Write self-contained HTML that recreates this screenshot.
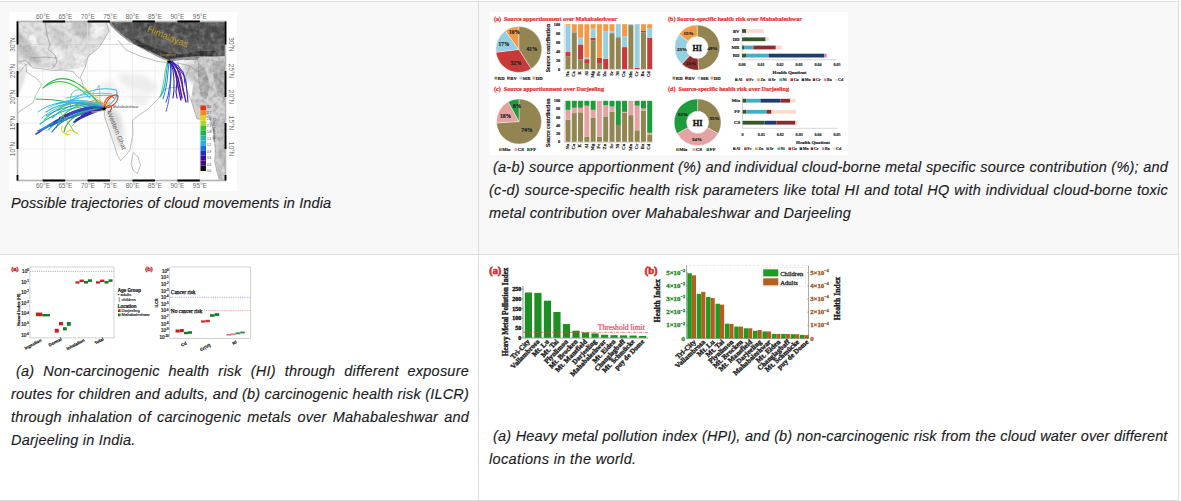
<!DOCTYPE html>
<html><head><meta charset="utf-8">
<style>
html,body{margin:0;padding:0;width:1181px;height:501px;overflow:hidden;background:#fff;position:relative;font-family:"Liberation Sans",sans-serif;}
.abs{position:absolute;}
.row1{left:0;top:1px;width:1179px;height:253px;background:#f8f8f8;}
.hl{position:absolute;left:0;width:1179px;height:1px;background:#dedede;}
.vl{position:absolute;width:1px;background:#dedede;}
.cap{position:absolute;font-style:italic;font-size:14.5px;letter-spacing:0.22px;line-height:23px;color:#1d1d24;white-space:nowrap;-webkit-text-stroke:0.15px #1d1d24;}
.cap div{height:23px;}
.j{text-align:justify;text-align-last:justify;}
.fig{position:absolute;background:#fff;}
svg{font-family:"Liberation Sans",sans-serif;} .serif{font-family:"Liberation Serif",serif;}
</style></head><body>
<div class="abs row1"></div>
<div class="hl" style="top:1px"></div>
<div class="hl" style="top:254px"></div>
<div class="hl" style="top:500px"></div>
<div class="vl" style="left:478px;top:1px;height:500px"></div>
<div class="vl" style="left:1178px;top:1px;height:500px"></div>

<!-- FIG1 -->
<svg class="abs" style="left:9px;top:12px" width="228" height="179" viewBox="9 12 228 179">
<defs>
<filter id="tex" x="0" y="0" width="1" height="1"><feTurbulence type="fractalNoise" baseFrequency="0.22" numOctaves="3" seed="5"/><feColorMatrix type="matrix" values="0 0 0 0 0  0 0 0 0 0  0 0 0 0 0  0 0 0 -2 1.25"/><feComposite in2="SourceGraphic" operator="in"/></filter>
<filter id="texw" x="0" y="0" width="1" height="1"><feTurbulence type="fractalNoise" baseFrequency="0.18" numOctaves="3" seed="9"/><feColorMatrix type="matrix" values="0 0 0 0 1  0 0 0 0 1  0 0 0 0 1  0 0 0 -2.2 1.3"/><feComposite in2="SourceGraphic" operator="in"/></filter>
<filter id="bl0"><feGaussianBlur stdDeviation="0.6"/></filter><filter id="bl1"><feGaussianBlur stdDeviation="1.2"/></filter>
<filter id="bl2"><feGaussianBlur stdDeviation="2.5"/></filter>
<clipPath id="mapclip"><rect x="17.5" y="21.5" width="208" height="159"/></clipPath>
</defs>
<rect x="9" y="12" width="228" height="179" fill="#fff"/>
<g clip-path="url(#mapclip)">
<rect x="17" y="21" width="210" height="161" fill="#fefefe"/>
<!-- west topography -->
<g filter="url(#bl1)">
<path d="M15 19 L106 19 L109 31 L100 46 L89 56 L85 66 L75 69 L60 70 L40 68 L28 66 L15 63 Z" fill="#e2e2e2"/>
<path d="M15 30 L24 36 L34 50 L42 62 L34 64 L22 55 L15 48 Z" fill="#c4c4c4"/>
<path d="M48 24 L62 30 L70 44 L64 50 L54 40 Z" fill="#d0d0d0"/>
<path d="M70 20 L98 20 L94 30 L84 40 L74 34 Z" fill="#c8c8c8"/>
<path d="M27 32 L36 36 L38 46 L31 46 Z" fill="#f6f6f6"/>
<path d="M52 46 L66 52 L62 62 L50 58 Z" fill="#f2f2f2"/>
<path d="M92 22 L106 22 L104 32 L96 40 L90 34 Z" fill="#f4f4f4"/>
<path d="M74 52 L86 56 L84 66 L74 66 Z" fill="#f0f0f0"/>
</g>
<path d="M15 19 L106 19 L109 31 L100 46 L89 56 L85 66 L75 69 L60 70 L40 68 L28 66 L15 63 Z" fill="#000" filter="url(#tex)" opacity="0.12"/>
<!-- Arabia -->
<path d="M15 68 L22 66 L27 70 L24 82 L19 94 L15 100 Z" fill="#e4e4e4" filter="url(#bl1)"/>
<!-- India plateau light shading -->
<g filter="url(#bl2)">
<path d="M104 104 L114 106 L120 116 L124 134 L121 150 L116 146 L110 128 L106 116 Z" fill="#e2e2e2"/>
<path d="M110 112 L118 114 L122 124 L118 132 L112 124 Z" fill="#d6d6d6"/>
<path d="M96 84 L112 80 L120 92 L108 98 Z" fill="#efefef"/>
<path d="M120 72 L146 76 L160 88 L150 94 L128 88 L118 80 Z" fill="#ededed"/>
<path d="M130 92 L150 96 L146 106 L132 104 Z" fill="#f0f0f0"/>
<path d="M182 64 L198 62 L206 70 L202 84 L190 82 L184 74 Z" fill="#c4c4c4"/>
</g>
<!-- grid -->
<g stroke="#e2e2e2" stroke-width="0.6" fill="none">
<path d="M42.7 21V181M65.1 21V181M87.6 21V181M110 21V181M132.5 21V181M154.9 21V181M177.4 21V181M199.8 21V181"/>
<path d="M17 44.5H226M17 71H226M17 97H226M17 123H226M17 149H226"/>
</g>
<!-- Tibet / Himalaya -->
<g filter="url(#bl0)">
<path d="M106 19 L228 19 L228 126 L220 122 L215 104 L212 86 L208 70 L203 61 L192 60 L181 60 L170 62 L160 58 L150 53 L139 47 L128 41 L118 33 L111 26 Z" fill="#9a9a9a"/>
<path d="M109 19 L228 19 L228 60 L212 57 L200 56 L188 57 L178 58 L169 60 L158 55 L147 50 L136 44 L124 36 L115 28 Z" fill="#585858"/>
<path d="M118 19 L228 19 L228 38 L200 40 L180 38 L160 36 L140 30 L126 24 Z" fill="#505050"/>
<path d="M128 36 L150 46 L168 53 L180 54 L200 51 L216 51 L212 56 L196 56 L178 57 L167 59 L152 52 L134 44 Z" fill="#353535"/>
<path d="M193 86 L191 100 L197 118.7 L202 119.5 L208.8 116 L213.3 129.3 L215.6 150.5 L214.6 161 L217 172 L220 182 L228 182 L228 56 L200 57 L194 62 L196 72 Z" fill="#d2d2d2"/>
<path d="M198 62 L206 70 L210 86 L206 100 L201 96 L198 80 Z" fill="#b0b0b0"/>
<path d="M212 60 L226 62 L226 100 L218 96 L214 80 Z" fill="#b0b0b0"/>
<path d="M216 120 L226 118 L226 170 L220 160 L218 140 Z" fill="#c2c2c2"/>

</g>
<path d="M106 19 L228 19 L228 182 L220 182 L214 150 L208 116 L191 100 L193 86 L194 62 L170 62 L150 53 L128 41 L111 26 Z" fill="#fff" filter="url(#texw)" opacity="0.25"/>
<path d="M106 19 L228 19 L228 182 L220 182 L214 150 L208 116 L191 100 L193 86 L194 62 L170 62 L150 53 L128 41 L111 26 Z" fill="#000" filter="url(#tex)" opacity="0.2"/>
<g stroke="#888" stroke-width="0.5" fill="none" opacity="0.35">
<path d="M110 21V40M132.5 21V42M154.9 21V54M177.4 21V58M199.8 21V56M17 44.5H226"/>
</g>
<!-- coastlines / borders -->
<g stroke="#8a8a8a" stroke-width="0.55" fill="none" stroke-linejoin="round">
<path d="M17.5 62 L26 60.4 L32.8 67.8 L45.4 69.4 L53 70.5 L63.4 70 L74 72 L76.4 76 L81 79 L83 85.3 L89.4 92.7 L92 93.8 L97.5 88 L99 85.3 L99.7 91.7 L100 102.8 L104 109 L105 118 L112.6 140 L117.4 155 L120.6 160.7 L127 154 L130 149.5 L133 134 L132.5 120.8 L137.3 116 L147.3 109.7 L158.5 98.6 L164 89.6 L169.3 88 L177.4 87 L185.6 85.3 L186.5 90 L191 100 L197 118.7 L202 119.5 L208.8 116 L213.3 129.3 L215.6 150.5 L214.6 161 L217 172 L220 182"/>
<path d="M17.5 75 L22.5 68.3 L26 64 L26.5 72 L36.4 78.4 L41.8 84.3 L36 94.9 L32.8 102.8 L20.3 110.8 L17.5 113.4"/>
<path d="M133.3 152.7 L138 157 L140.5 165 L137.3 173.5 L133 170 L131 164 Z"/>
<path d="M106 21 L109 31 L99.5 47 L88 56.5 L85 67.7 L80 78"/>
<path d="M45 21 L47 35 L50 45 L48 49 L55 55 L57 62 L52 69"/>
<path d="M30 58 L44 57 L57 58"/>
<path d="M118 40 L126 50 L140 56 L156 61 L168 63 L178 63 L190 66 L198 72 L206 67"/>
<path d="M178 63 L180 72 L177.4 87 M190 66 L186 76 L185.6 85.3"/>
</g>
<!-- trajectories: west cluster -->
<g fill="none" stroke-linecap="round" stroke-width="1.1" opacity="0.95">
<path d="M43 88 C55 76 70 74 88 92 S100 106 104 108" stroke="#1fb43c"/>
<path d="M46 86 C58 78 72 80 90 98" stroke="#3ad04a"/>
<path d="M36 99 C60 99 80 104 104 108" stroke="#20b050"/>
<path d="M58 110 C80 92 100 86 116 90 C120 96 112 104 104 108" stroke="#35b8d8"/>
<path d="M62 103 C80 96 100 94 118 96" stroke="#48b8e0"/>
<path d="M66 98 C84 94 100 92 112 94" stroke="#60c0e8"/>
<path d="M36 134 C60 118 80 108 104 108" stroke="#3a3ad0" stroke-width="1.6"/>
<path d="M38 131 C62 120 84 112 104 109" stroke="#1f6fd8" stroke-width="1.6"/>
<path d="M42 129 C62 116 84 108 104 108" stroke="#1890e0" stroke-width="1.4"/>
<path d="M48 130 C66 112 86 104 104 108" stroke="#20c0a0"/>
<path d="M50 126 C70 116 90 110 104 108" stroke="#2050d0" stroke-width="1.6"/>
<path d="M54 122 C72 112 90 106 104 108" stroke="#1a38c0" stroke-width="1.8"/>
<path d="M60 118 C76 110 92 104 104 108" stroke="#3020b0" stroke-width="2"/>
<path d="M64 116 C78 110 92 106 104 107" stroke="#4a1aa0" stroke-width="2.2"/>
<path d="M70 114 C82 108 94 106 104 107" stroke="#2840c8" stroke-width="2.2"/>
<path d="M56 128 C62 110 80 100 104 106" stroke="#30c040"/>
<path d="M64 132 C66 118 86 108 104 108" stroke="#40a020"/>
<path d="M52 118 C66 104 86 100 104 106" stroke="#28b868"/>
<path d="M46 112 C60 102 84 100 104 106" stroke="#22b0b8"/>
<path d="M56 104 C72 98 90 100 104 106" stroke="#30a8e0"/>
<path d="M40 124 C56 112 76 104 104 106" stroke="#18a8d0"/>
<path d="M44 120 C60 104 80 98 104 104" stroke="#40c850"/>
<path d="M66 134 C70 126 74 132 78 134" stroke="#f0c020"/>
<path d="M62 126 C60 132 66 136 70 134" stroke="#e0e020"/>
<path d="M76 120 C88 112 96 110 104 109" stroke="#1010a0" stroke-width="1.8"/>
<path d="M42 118 C58 104 82 96 104 107" stroke="#22c0e0" stroke-width="0.9"/>
<path d="M48 108 C64 100 86 98 104 106" stroke="#58c8e8" stroke-width="0.9"/>
<path d="M52 132 C60 120 80 110 104 108" stroke="#1a60d0" stroke-width="1.2"/>
<path d="M58 124 C68 116 84 110 104 108" stroke="#30b0a0" stroke-width="0.9"/>
<path d="M46 116 C62 106 84 102 104 107" stroke="#2890e0" stroke-width="1"/>
<path d="M72 126 C80 116 92 110 104 108" stroke="#60c830" stroke-width="0.9"/>
<path d="M70 110 C72 100 68 94 76 90 C84 88 96 98 104 106" stroke="#40c8a0" stroke-width="0.9"/>
<path d="M38 112 C50 102 70 100 90 104" stroke="#20a8e8" stroke-width="0.9"/>
<path d="M82 116 C90 112 98 110 104 108" stroke="#5010a0" stroke-width="2"/>
<path d="M74 122 C84 116 94 112 104 109" stroke="#2020c0" stroke-width="1.8"/>
<path d="M60 112 C68 122 72 128 74 132" stroke="#50c040" stroke-width="0.9"/>
<path d="M88 104 C92 98 96 100 104 108" stroke="#f08020" stroke-width="0.9"/>
<path d="M104 108 C108 98 114 92 118 96 C118 104 110 108 104 108" stroke="#e02a1c"/>
<path d="M104 108 C112 102 114 110 108 112" stroke="#d83018"/>
<path d="M104 108 C104 98 110 94 114 98" stroke="#e84020"/>
<path d="M98 100 C104 104 108 106 110 102" stroke="#f0a020"/>
<path d="M84 88 L98 98" stroke="#e8c050" stroke-width="1"/>
<path d="M104 110 C100 112 96 112 92 112" stroke="#d0e030" stroke-width="1"/>
</g>
<!-- trajectories: east cluster -->
<g fill="none" stroke-linecap="round" stroke-linejoin="round">
<path d="M168 61 L167 68 L166 76 L165 84 L163 92 L160 97" stroke="#18b0c0" stroke-width="1.1"/>
<path d="M167 63 L165 72 L164 80 L162 90 L161 95" stroke="#40c070" stroke-width="0.8"/>
<path d="M169 62 L168 72 L167 82 L165 92 L163 99" stroke="#1a88e0" stroke-width="1"/>
<path d="M170 62 L171 72 L170 84 L168 96 L166 102" stroke="#2a50d8" stroke-width="1"/>
<path d="M171 64 L171 78 L170 92 L168 104 L166 112" stroke="#3040e0" stroke-width="0.9" stroke-dasharray="0.9 0.9"/>
<path d="M170 61 L174 68 L176 76 L178 86 L180 96 L181 100" stroke="#4a20b0" stroke-width="1.3"/>
<path d="M172 61 L177 68 L180 76 L182 84 L184 94 L186 102" stroke="#5a1aa0" stroke-width="1.3"/>
<path d="M172 62 L178 66 L183 72 L186 82 L187 92 L188 102" stroke="#3a2ab8" stroke-width="1.1"/>
<path d="M170 62 L173 70 L174 80 L174 90 L173 98" stroke="#2830c8" stroke-width="1.1"/>
<path d="M171 62 L175 70 L178 78 L180 88 L182 98" stroke="#4818a8" stroke-width="1.4"/>
<path d="M172 62 L176 66 L180 70 L184 76 L185 84" stroke="#3030c0" stroke-width="1"/>
<path d="M171 63 L176 72 L177 82 L176 92 L177 98" stroke="#5020a0" stroke-width="1.2"/>
<path d="M172 63 L180 72 L182 80 L183 90 L185 96" stroke="#6018a0" stroke-width="1"/>
</g>
<!-- stars & labels -->
<text x="104" y="110.8" font-size="7" fill="#000" text-anchor="middle">&#9733;</text>
<text x="169" y="63.5" font-size="7" fill="#000" text-anchor="middle">&#9733;</text>
<text x="113" y="108.2" font-size="3.6" fill="#444">Mahabaleshwar</text>
<text x="146.5" y="31.5" font-size="9.3" fill="#b89a28" transform="rotate(22 146.5 31.5)">Himalayas</text>
<text x="160" y="56" font-size="3.5" fill="#c0a030">Darjeeling</text>
<text x="107" y="112.5" font-size="6.6" fill="#555" transform="rotate(68 107 112.5)">Western Ghat</text>
</g>
<!-- colorbar -->
<g>
<rect x="200.5" y="105.5" width="5.5" height="5" fill="#e8301c"/>
<rect x="200.5" y="110.5" width="5.5" height="5" fill="#f08a18"/>
<rect x="200.5" y="115.5" width="5.5" height="5" fill="#e8d020"/>
<rect x="200.5" y="120.5" width="5.5" height="5" fill="#a8d828"/>
<rect x="200.5" y="125.5" width="5.5" height="5" fill="#40c030"/>
<rect x="200.5" y="130.5" width="5.5" height="5" fill="#20b048"/>
<rect x="200.5" y="135.5" width="5.5" height="5" fill="#20b8a0"/>
<rect x="200.5" y="140.5" width="5.5" height="5" fill="#28b0e0"/>
<rect x="200.5" y="145.5" width="5.5" height="5" fill="#1a70e0"/>
<rect x="200.5" y="150.5" width="5.5" height="5" fill="#1a30c8"/>
<rect x="200.5" y="155.5" width="5.5" height="5" fill="#3010a0"/>
<rect x="200.5" y="160.5" width="5.5" height="5" fill="#4a0a88"/>
<rect x="200.5" y="165.5" width="5.5" height="5.5" fill="#111"/>
<g font-size="3.1" fill="#333">
<text x="207" y="107.5">3.0</text><text x="207" y="113.5">2.7</text><text x="207" y="120">2.4</text><text x="207" y="126.5">2.1</text><text x="207" y="133">1.8</text><text x="207" y="139.5">1.5</text><text x="207" y="146">1.2</text><text x="207" y="152.5">0.9</text><text x="207" y="159">0.6</text><text x="207" y="165.5">0.3</text><text x="207" y="171.5">0.0</text>
</g>
<text font-size="3" fill="#333" transform="translate(213 118) rotate(90)">Cloud liquid water</text>
</g>
<!-- frame -->
<rect x="17.5" y="21.5" width="208" height="159" fill="none" stroke="#b4b4b4" stroke-width="1.6"/>
<g stroke="#000" stroke-width="1.8">
<path d="M42.7 21.5H65.1M87.6 21.5H110M132.5 21.5H154.9M177.4 21.5H199.8"/>
<path d="M42.7 180.5H65.1M87.6 180.5H110M132.5 180.5H154.9M177.4 180.5H199.8"/>
<path d="M17.5 21.5V44.5M17.5 71V97M17.5 123V149M17.5 175V180.5"/>
<path d="M225.5 21.5V44.5M225.5 71V97M225.5 123V149M225.5 175V180.5"/>
</g>
<!-- labels -->
<g font-size="6.4" fill="#6a6a6a" text-anchor="middle">
<text x="43" y="19">60°E</text><text x="65.4" y="19">65°E</text><text x="87.8" y="19">70°E</text><text x="110.2" y="19">75°E</text><text x="132.6" y="19">80°E</text><text x="155" y="19">85°E</text><text x="177.4" y="19">90°E</text><text x="199.8" y="19">95°E</text>
<text x="43" y="188.3">60°E</text><text x="65.4" y="188.3">65°E</text><text x="87.8" y="188.3">70°E</text><text x="110.2" y="188.3">75°E</text><text x="132.6" y="188.3">80°E</text><text x="155" y="188.3">85°E</text><text x="177.4" y="188.3">90°E</text><text x="199.8" y="188.3">95°E</text>
<text transform="translate(14.6 44.5) rotate(-90)">30°N</text><text transform="translate(14.6 71) rotate(-90)">25°N</text><text transform="translate(14.6 97) rotate(-90)">20°N</text><text transform="translate(14.6 123) rotate(-90)">15°N</text><text transform="translate(14.6 149) rotate(-90)">10°N</text>
<text transform="translate(228.6 44.5) rotate(90)">30°N</text><text transform="translate(228.6 71) rotate(90)">25°N</text><text transform="translate(228.6 97) rotate(90)">20°N</text><text transform="translate(228.6 123) rotate(90)">15°N</text><text transform="translate(228.6 149) rotate(90)">10°N</text>
</g>
</svg>

<!-- /FIG1 -->
<!-- FIG2 -->
<svg class="abs" style="left:489px;top:12px" width="359" height="143" viewBox="489 12 359 143"><rect x="489" y="12" width="359" height="143" fill="#fff"/><text class="serif" x="494" y="20.6" font-size="6.0" fill="#e2332d" stroke="#e2332d" stroke-width="0.24" font-weight="bold" text-anchor="start" >(a)&#160; Source apportionment over Mahabaleshwar</text><text class="serif" x="668" y="20.6" font-size="6.1" fill="#e2332d" stroke="#e2332d" stroke-width="0.24" font-weight="bold" text-anchor="start" >(b) Source-specific health risk over Mahabaleshwar</text><text class="serif" x="494" y="90.6" font-size="6.1" fill="#e2332d" stroke="#e2332d" stroke-width="0.24" font-weight="bold" text-anchor="start" >(c)&#160; Source apportionment over Darjeeling</text><text class="serif" x="668" y="90.6" font-size="6.1" fill="#e2332d" stroke="#e2332d" stroke-width="0.24" font-weight="bold" text-anchor="start" >(d)&#160; Source-specific health risk over Darjeeling</text><path d="M518.8,49.4 L518.80,26.40 A23,23 0 0 1 531.12,68.82 Z" fill="#938552" stroke="#fff" stroke-width="0.4"/><path d="M518.8,49.4 L531.12,68.82 A23,23 0 0 1 495.98,52.28 Z" fill="#c9393a" stroke="#fff" stroke-width="0.4"/><path d="M518.8,49.4 L495.98,52.28 A23,23 0 0 1 505.28,30.79 Z" fill="#96cfe0" stroke="#fff" stroke-width="0.4"/><path d="M518.8,49.4 L505.28,30.79 A23,23 0 0 1 518.80,26.40 Z" fill="#f39a48" stroke="#fff" stroke-width="0.4"/><text class="serif" x="532" y="50.5" font-size="5.4" fill="#222" stroke="#222" stroke-width="0.22" font-weight="bold" text-anchor="middle" >41%</text><text class="serif" x="516" y="65" font-size="5.4" fill="#222" stroke="#222" stroke-width="0.22" font-weight="bold" text-anchor="middle" >32%</text><text class="serif" x="504" y="46" font-size="5.4" fill="#222" stroke="#222" stroke-width="0.22" font-weight="bold" text-anchor="middle" >17%</text><text class="serif" x="514.5" y="34" font-size="5.4" fill="#222" stroke="#222" stroke-width="0.22" font-weight="bold" text-anchor="middle" >10%</text><path d="M519,121.5 L519.00,99.00 A22.5,22.5 0 1 1 496.54,122.91 Z" fill="#938552" stroke="#fff" stroke-width="0.4"/><path d="M519,121.5 L496.54,122.91 A22.5,22.5 0 0 1 508.16,101.78 Z" fill="#e4a3a3" stroke="#fff" stroke-width="0.4"/><path d="M519,121.5 L508.16,101.78 A22.5,22.5 0 0 1 519.00,99.00 Z" fill="#1e9b3b" stroke="#fff" stroke-width="0.4"/><text class="serif" x="527" y="132" font-size="5.6" fill="#222" stroke="#222" stroke-width="0.22" font-weight="bold" text-anchor="middle" >74%</text><text class="serif" x="505.5" y="118" font-size="5.6" fill="#222" stroke="#222" stroke-width="0.22" font-weight="bold" text-anchor="middle" >18%</text><text class="serif" x="517" y="107.5" font-size="5.4" fill="#222" stroke="#222" stroke-width="0.22" font-weight="bold" text-anchor="middle" >8%</text><path d="M697.20,25.10 A22.5,22.5 0 0 1 698.61,70.06 L697.89,58.58 A11,11 0 0 0 697.20,36.60 Z" fill="#938552" stroke="#fff" stroke-width="0.4"/><path d="M698.61,70.06 A22.5,22.5 0 0 1 681.80,64.00 L689.67,55.62 A11,11 0 0 0 697.89,58.58 Z" fill="#8c2c2c" stroke="#fff" stroke-width="0.4"/><path d="M681.80,64.00 A22.5,22.5 0 0 1 679.00,34.37 L688.30,41.13 A11,11 0 0 0 689.67,55.62 Z" fill="#96cfe0" stroke="#fff" stroke-width="0.4"/><path d="M679.00,34.37 A22.5,22.5 0 0 1 697.20,25.10 L697.20,36.60 A11,11 0 0 0 688.30,41.13 Z" fill="#f39a48" stroke="#fff" stroke-width="0.4"/><text class="serif" x="697.2" y="50.6" font-size="8" fill="#111" stroke="#111" stroke-width="0.32" font-weight="bold" text-anchor="middle" >HI</text><text class="serif" x="712.5" y="50" font-size="5" fill="#222" stroke="#222" stroke-width="0.20" font-weight="bold" text-anchor="middle" >49%</text><text class="serif" x="691" y="65" font-size="5" fill="#222" stroke="#222" stroke-width="0.20" font-weight="bold" text-anchor="middle" >13%</text><text class="serif" x="682" y="50.5" font-size="5" fill="#222" stroke="#222" stroke-width="0.20" font-weight="bold" text-anchor="middle" >23%</text><text class="serif" x="688.5" y="35" font-size="5" fill="#222" stroke="#222" stroke-width="0.20" font-weight="bold" text-anchor="middle" >15%</text><path d="M697.60,98.90 A23.4,23.4 0 0 1 718.11,133.57 L707.24,127.60 A11,11 0 0 0 697.60,111.30 Z" fill="#938552" stroke="#fff" stroke-width="0.4"/><path d="M718.11,133.57 A23.4,23.4 0 0 1 677.09,133.57 L687.96,127.60 A11,11 0 0 0 707.24,127.60 Z" fill="#e4a3a3" stroke="#fff" stroke-width="0.4"/><path d="M677.09,133.57 A23.4,23.4 0 0 1 697.60,98.90 L697.60,111.30 A11,11 0 0 0 687.96,127.60 Z" fill="#1e9b3b" stroke="#fff" stroke-width="0.4"/><text class="serif" x="697.6" y="125.5" font-size="8.5" fill="#111" stroke="#111" stroke-width="0.34" font-weight="bold" text-anchor="middle" >HI</text><text class="serif" x="714.5" y="119.6" font-size="5" fill="#222" stroke="#222" stroke-width="0.20" font-weight="bold" text-anchor="middle" >33%</text><text class="serif" x="697" y="140.6" font-size="5" fill="#222" stroke="#222" stroke-width="0.20" font-weight="bold" text-anchor="middle" >34%</text><text class="serif" x="683" y="115.5" font-size="5" fill="#222" stroke="#222" stroke-width="0.20" font-weight="bold" text-anchor="middle" >33%</text><rect x="494.5" y="76.7" width="2.8" height="2.8" fill="#938552"/><text class="serif" x="497.8" y="79.5" font-size="4.7" fill="#222" stroke="#222" stroke-width="0.19" font-weight="bold" text-anchor="start" >RD</text><rect x="507.0" y="76.7" width="2.8" height="2.8" fill="#c9393a"/><text class="serif" x="510.3" y="79.5" font-size="4.7" fill="#222" stroke="#222" stroke-width="0.19" font-weight="bold" text-anchor="start" >BV</text><rect x="519.5" y="76.7" width="2.8" height="2.8" fill="#96cfe0"/><text class="serif" x="522.8" y="79.5" font-size="4.7" fill="#222" stroke="#222" stroke-width="0.19" font-weight="bold" text-anchor="start" >MR</text><rect x="532.5" y="76.7" width="2.8" height="2.8" fill="#f39a48"/><text class="serif" x="535.8" y="79.5" font-size="4.7" fill="#222" stroke="#222" stroke-width="0.19" font-weight="bold" text-anchor="start" >DD</text><rect x="672.5" y="76.7" width="2.8" height="2.8" fill="#938552"/><text class="serif" x="675.8" y="79.5" font-size="4.7" fill="#222" stroke="#222" stroke-width="0.19" font-weight="bold" text-anchor="start" >RD</text><rect x="685.0" y="76.7" width="2.8" height="2.8" fill="#8c2c2c"/><text class="serif" x="688.3" y="79.5" font-size="4.7" fill="#222" stroke="#222" stroke-width="0.19" font-weight="bold" text-anchor="start" >BV</text><rect x="697.5" y="76.7" width="2.8" height="2.8" fill="#96cfe0"/><text class="serif" x="700.8" y="79.5" font-size="4.7" fill="#222" stroke="#222" stroke-width="0.19" font-weight="bold" text-anchor="start" >MR</text><rect x="710.5" y="76.7" width="2.8" height="2.8" fill="#f39a48"/><text class="serif" x="713.8" y="79.5" font-size="4.7" fill="#222" stroke="#222" stroke-width="0.19" font-weight="bold" text-anchor="start" >DD</text><rect x="499" y="148.2" width="2.8" height="2.8" fill="#938552"/><text class="serif" x="502.3" y="151" font-size="4.7" fill="#222" stroke="#222" stroke-width="0.19" font-weight="bold" text-anchor="start" >Mix</text><rect x="514.5" y="148.2" width="2.8" height="2.8" fill="#e4a3a3"/><text class="serif" x="517.8" y="151" font-size="4.7" fill="#222" stroke="#222" stroke-width="0.19" font-weight="bold" text-anchor="start" >CS</text><rect x="527.0" y="148.2" width="2.8" height="2.8" fill="#1e9b3b"/><text class="serif" x="530.3" y="151" font-size="4.7" fill="#222" stroke="#222" stroke-width="0.19" font-weight="bold" text-anchor="start" >FF</text><rect x="676" y="148.2" width="2.8" height="2.8" fill="#938552"/><text class="serif" x="679.3" y="151" font-size="4.7" fill="#222" stroke="#222" stroke-width="0.19" font-weight="bold" text-anchor="start" >Mix</text><rect x="692.5" y="148.2" width="2.8" height="2.8" fill="#e4a3a3"/><text class="serif" x="695.8" y="151" font-size="4.7" fill="#222" stroke="#222" stroke-width="0.19" font-weight="bold" text-anchor="start" >CS</text><rect x="706.5" y="148.2" width="2.8" height="2.8" fill="#1e9b3b"/><text class="serif" x="709.8" y="151" font-size="4.7" fill="#222" stroke="#222" stroke-width="0.19" font-weight="bold" text-anchor="start" >FF</text><rect x="565.50" y="56.53" width="5.0" height="12.57" fill="#938552"/><rect x="565.50" y="52.04" width="5.0" height="4.49" fill="#c9393a"/><rect x="565.50" y="25.55" width="5.0" height="26.49" fill="#96cfe0"/><rect x="565.50" y="24.20" width="5.0" height="1.35" fill="#f39a48"/><rect x="571.79" y="32.28" width="5.0" height="36.82" fill="#938552"/><rect x="571.79" y="24.20" width="5.0" height="8.08" fill="#f39a48"/><rect x="578.07" y="59.22" width="5.0" height="9.88" fill="#938552"/><rect x="578.07" y="44.40" width="5.0" height="14.82" fill="#c9393a"/><rect x="578.07" y="37.67" width="5.0" height="6.73" fill="#96cfe0"/><rect x="578.07" y="24.20" width="5.0" height="13.47" fill="#f39a48"/><rect x="584.36" y="63.71" width="5.0" height="5.39" fill="#938552"/><rect x="584.36" y="59.22" width="5.0" height="4.49" fill="#c9393a"/><rect x="584.36" y="57.43" width="5.0" height="1.80" fill="#96cfe0"/><rect x="584.36" y="24.20" width="5.0" height="33.23" fill="#f39a48"/><rect x="590.64" y="40.36" width="5.0" height="28.74" fill="#938552"/><rect x="590.64" y="37.67" width="5.0" height="2.69" fill="#c9393a"/><rect x="590.64" y="28.69" width="5.0" height="8.98" fill="#96cfe0"/><rect x="590.64" y="24.20" width="5.0" height="4.49" fill="#f39a48"/><rect x="596.93" y="63.71" width="5.0" height="5.39" fill="#938552"/><rect x="596.93" y="57.88" width="5.0" height="5.84" fill="#c9393a"/><rect x="596.93" y="24.20" width="5.0" height="33.67" fill="#f39a48"/><rect x="603.21" y="58.77" width="5.0" height="10.33" fill="#c9393a"/><rect x="603.21" y="31.38" width="5.0" height="27.39" fill="#96cfe0"/><rect x="603.21" y="24.20" width="5.0" height="7.18" fill="#f39a48"/><rect x="609.50" y="33.18" width="5.0" height="35.92" fill="#938552"/><rect x="609.50" y="31.38" width="5.0" height="1.80" fill="#96cfe0"/><rect x="609.50" y="24.20" width="5.0" height="7.18" fill="#f39a48"/><rect x="615.79" y="37.22" width="5.0" height="31.88" fill="#938552"/><rect x="615.79" y="24.20" width="5.0" height="13.02" fill="#96cfe0"/><rect x="622.07" y="47.10" width="5.0" height="22.00" fill="#c9393a"/><rect x="622.07" y="36.32" width="5.0" height="10.78" fill="#96cfe0"/><rect x="622.07" y="24.20" width="5.0" height="12.12" fill="#f39a48"/><rect x="628.36" y="25.10" width="5.0" height="44.00" fill="#938552"/><rect x="628.36" y="24.20" width="5.0" height="0.90" fill="#96cfe0"/><rect x="634.64" y="67.75" width="5.0" height="1.35" fill="#c9393a"/><rect x="634.64" y="24.20" width="5.0" height="43.55" fill="#96cfe0"/><rect x="640.93" y="32.28" width="5.0" height="36.82" fill="#938552"/><rect x="640.93" y="30.49" width="5.0" height="1.80" fill="#c9393a"/><rect x="640.93" y="24.20" width="5.0" height="6.29" fill="#f39a48"/><rect x="647.21" y="37.67" width="5.0" height="31.43" fill="#c9393a"/><rect x="647.21" y="28.24" width="5.0" height="9.43" fill="#96cfe0"/><rect x="647.21" y="24.20" width="5.0" height="4.04" fill="#f39a48"/><path d="M564.2,24.2 V69.6 H653.2" stroke="#999" stroke-width="0.4" fill="none"/><text class="serif" x="560.2" y="70.5" font-size="4.3" fill="#222" stroke="#222" stroke-width="0.17" font-weight="bold" text-anchor="end" >0</text><text class="serif" x="560.2" y="61.519999999999996" font-size="4.3" fill="#222" stroke="#222" stroke-width="0.17" font-weight="bold" text-anchor="end" >20</text><text class="serif" x="560.2" y="52.54" font-size="4.3" fill="#222" stroke="#222" stroke-width="0.17" font-weight="bold" text-anchor="end" >40</text><text class="serif" x="560.2" y="43.559999999999995" font-size="4.3" fill="#222" stroke="#222" stroke-width="0.17" font-weight="bold" text-anchor="end" >60</text><text class="serif" x="560.2" y="34.58" font-size="4.3" fill="#222" stroke="#222" stroke-width="0.17" font-weight="bold" text-anchor="end" >80</text><text class="serif" x="560.2" y="25.6" font-size="4.3" fill="#222" stroke="#222" stroke-width="0.17" font-weight="bold" text-anchor="end" >100</text><text class="serif" font-size="5.7" font-weight="bold" fill="#222" stroke="#222" stroke-width="0.2" text-anchor="middle" transform="translate(550.2 48.15) rotate(-90)">Source contribution</text><text class="serif" font-size="4.6" font-weight="bold" fill="#222" stroke="#222" stroke-width="0.18" text-anchor="end" transform="translate(568.70 71.1) rotate(-90)">Na</text><text class="serif" font-size="4.6" font-weight="bold" fill="#222" stroke="#222" stroke-width="0.18" text-anchor="end" transform="translate(574.99 71.1) rotate(-90)">Ca</text><text class="serif" font-size="4.6" font-weight="bold" fill="#222" stroke="#222" stroke-width="0.18" text-anchor="end" transform="translate(581.27 71.1) rotate(-90)">K</text><text class="serif" font-size="4.6" font-weight="bold" fill="#222" stroke="#222" stroke-width="0.18" text-anchor="end" transform="translate(587.56 71.1) rotate(-90)">Al</text><text class="serif" font-size="4.6" font-weight="bold" fill="#222" stroke="#222" stroke-width="0.18" text-anchor="end" transform="translate(593.84 71.1) rotate(-90)">Mg</text><text class="serif" font-size="4.6" font-weight="bold" fill="#222" stroke="#222" stroke-width="0.18" text-anchor="end" transform="translate(600.13 71.1) rotate(-90)">Fe</text><text class="serif" font-size="4.6" font-weight="bold" fill="#222" stroke="#222" stroke-width="0.18" text-anchor="end" transform="translate(606.41 71.1) rotate(-90)">Zn</text><text class="serif" font-size="4.6" font-weight="bold" fill="#222" stroke="#222" stroke-width="0.18" text-anchor="end" transform="translate(612.70 71.1) rotate(-90)">Sr</text><text class="serif" font-size="4.6" font-weight="bold" fill="#222" stroke="#222" stroke-width="0.18" text-anchor="end" transform="translate(618.99 71.1) rotate(-90)">Ni</text><text class="serif" font-size="4.6" font-weight="bold" fill="#222" stroke="#222" stroke-width="0.18" text-anchor="end" transform="translate(625.27 71.1) rotate(-90)">Cu</text><text class="serif" font-size="4.6" font-weight="bold" fill="#222" stroke="#222" stroke-width="0.18" text-anchor="end" transform="translate(631.56 71.1) rotate(-90)">Mn</text><text class="serif" font-size="4.6" font-weight="bold" fill="#222" stroke="#222" stroke-width="0.18" text-anchor="end" transform="translate(637.84 71.1) rotate(-90)">Cr</text><text class="serif" font-size="4.6" font-weight="bold" fill="#222" stroke="#222" stroke-width="0.18" text-anchor="end" transform="translate(644.13 71.1) rotate(-90)">Ba</text><text class="serif" font-size="4.6" font-weight="bold" fill="#222" stroke="#222" stroke-width="0.18" text-anchor="end" transform="translate(650.41 71.1) rotate(-90)">Cd</text><rect x="565.50" y="119.66" width="5.0" height="22.14" fill="#938552"/><rect x="565.50" y="109.82" width="5.0" height="9.84" fill="#e4a3a3"/><rect x="565.50" y="100.80" width="5.0" height="9.02" fill="#1e9b3b"/><rect x="571.79" y="113.10" width="5.0" height="28.70" fill="#938552"/><rect x="571.79" y="107.77" width="5.0" height="5.33" fill="#e4a3a3"/><rect x="571.79" y="100.80" width="5.0" height="6.97" fill="#1e9b3b"/><rect x="578.07" y="112.28" width="5.0" height="29.52" fill="#938552"/><rect x="578.07" y="107.77" width="5.0" height="4.51" fill="#e4a3a3"/><rect x="578.07" y="100.80" width="5.0" height="6.97" fill="#1e9b3b"/><rect x="584.36" y="136.88" width="5.0" height="4.92" fill="#938552"/><rect x="584.36" y="105.72" width="5.0" height="31.16" fill="#e4a3a3"/><rect x="584.36" y="100.80" width="5.0" height="4.92" fill="#1e9b3b"/><rect x="590.64" y="117.61" width="5.0" height="24.19" fill="#938552"/><rect x="590.64" y="109.82" width="5.0" height="7.79" fill="#e4a3a3"/><rect x="590.64" y="100.80" width="5.0" height="9.02" fill="#1e9b3b"/><rect x="596.93" y="136.88" width="5.0" height="4.92" fill="#938552"/><rect x="596.93" y="100.80" width="5.0" height="36.08" fill="#e4a3a3"/><rect x="603.21" y="116.38" width="5.0" height="25.42" fill="#938552"/><rect x="603.21" y="105.31" width="5.0" height="11.07" fill="#e4a3a3"/><rect x="603.21" y="100.80" width="5.0" height="4.51" fill="#1e9b3b"/><rect x="609.50" y="111.87" width="5.0" height="29.93" fill="#938552"/><rect x="609.50" y="106.54" width="5.0" height="5.33" fill="#e4a3a3"/><rect x="609.50" y="100.80" width="5.0" height="5.74" fill="#1e9b3b"/><rect x="615.79" y="124.99" width="5.0" height="16.81" fill="#938552"/><rect x="615.79" y="100.80" width="5.0" height="24.19" fill="#1e9b3b"/><rect x="622.07" y="112.69" width="5.0" height="29.11" fill="#938552"/><rect x="622.07" y="111.87" width="5.0" height="0.82" fill="#e4a3a3"/><rect x="622.07" y="100.80" width="5.0" height="11.07" fill="#1e9b3b"/><rect x="628.36" y="115.15" width="5.0" height="26.65" fill="#938552"/><rect x="628.36" y="100.80" width="5.0" height="14.35" fill="#e4a3a3"/><rect x="634.64" y="130.32" width="5.0" height="11.48" fill="#938552"/><rect x="634.64" y="105.72" width="5.0" height="24.60" fill="#e4a3a3"/><rect x="634.64" y="100.80" width="5.0" height="4.92" fill="#1e9b3b"/><rect x="640.93" y="110.64" width="5.0" height="31.16" fill="#938552"/><rect x="640.93" y="108.59" width="5.0" height="2.05" fill="#e4a3a3"/><rect x="640.93" y="100.80" width="5.0" height="7.79" fill="#1e9b3b"/><rect x="647.21" y="134.83" width="5.0" height="6.97" fill="#938552"/><rect x="647.21" y="132.78" width="5.0" height="2.05" fill="#e4a3a3"/><rect x="647.21" y="100.80" width="5.0" height="31.98" fill="#1e9b3b"/><path d="M564.2,100.8 V142.3 H653.2" stroke="#999" stroke-width="0.4" fill="none"/><text class="serif" x="560.2" y="143.20000000000002" font-size="4.3" fill="#222" stroke="#222" stroke-width="0.17" font-weight="bold" text-anchor="end" >0</text><text class="serif" x="560.2" y="135.00000000000003" font-size="4.3" fill="#222" stroke="#222" stroke-width="0.17" font-weight="bold" text-anchor="end" >20</text><text class="serif" x="560.2" y="126.80000000000001" font-size="4.3" fill="#222" stroke="#222" stroke-width="0.17" font-weight="bold" text-anchor="end" >40</text><text class="serif" x="560.2" y="118.60000000000001" font-size="4.3" fill="#222" stroke="#222" stroke-width="0.17" font-weight="bold" text-anchor="end" >60</text><text class="serif" x="560.2" y="110.4" font-size="4.3" fill="#222" stroke="#222" stroke-width="0.17" font-weight="bold" text-anchor="end" >80</text><text class="serif" x="560.2" y="102.2" font-size="4.3" fill="#222" stroke="#222" stroke-width="0.17" font-weight="bold" text-anchor="end" >100</text><text class="serif" font-size="5.7" font-weight="bold" fill="#222" stroke="#222" stroke-width="0.2" text-anchor="middle" transform="translate(550.2 122.80000000000001) rotate(-90)">Source contribution</text><text class="serif" font-size="4.6" font-weight="bold" fill="#222" stroke="#222" stroke-width="0.18" text-anchor="end" transform="translate(568.70 143.8) rotate(-90)">Na</text><text class="serif" font-size="4.6" font-weight="bold" fill="#222" stroke="#222" stroke-width="0.18" text-anchor="end" transform="translate(574.99 143.8) rotate(-90)">Ca</text><text class="serif" font-size="4.6" font-weight="bold" fill="#222" stroke="#222" stroke-width="0.18" text-anchor="end" transform="translate(581.27 143.8) rotate(-90)">K</text><text class="serif" font-size="4.6" font-weight="bold" fill="#222" stroke="#222" stroke-width="0.18" text-anchor="end" transform="translate(587.56 143.8) rotate(-90)">Al</text><text class="serif" font-size="4.6" font-weight="bold" fill="#222" stroke="#222" stroke-width="0.18" text-anchor="end" transform="translate(593.84 143.8) rotate(-90)">Mg</text><text class="serif" font-size="4.6" font-weight="bold" fill="#222" stroke="#222" stroke-width="0.18" text-anchor="end" transform="translate(600.13 143.8) rotate(-90)">Fe</text><text class="serif" font-size="4.6" font-weight="bold" fill="#222" stroke="#222" stroke-width="0.18" text-anchor="end" transform="translate(606.41 143.8) rotate(-90)">Zn</text><text class="serif" font-size="4.6" font-weight="bold" fill="#222" stroke="#222" stroke-width="0.18" text-anchor="end" transform="translate(612.70 143.8) rotate(-90)">Sr</text><text class="serif" font-size="4.6" font-weight="bold" fill="#222" stroke="#222" stroke-width="0.18" text-anchor="end" transform="translate(618.99 143.8) rotate(-90)">Ni</text><text class="serif" font-size="4.6" font-weight="bold" fill="#222" stroke="#222" stroke-width="0.18" text-anchor="end" transform="translate(625.27 143.8) rotate(-90)">Cu</text><text class="serif" font-size="4.6" font-weight="bold" fill="#222" stroke="#222" stroke-width="0.18" text-anchor="end" transform="translate(631.56 143.8) rotate(-90)">Mn</text><text class="serif" font-size="4.6" font-weight="bold" fill="#222" stroke="#222" stroke-width="0.18" text-anchor="end" transform="translate(637.84 143.8) rotate(-90)">Cr</text><text class="serif" font-size="4.6" font-weight="bold" fill="#222" stroke="#222" stroke-width="0.18" text-anchor="end" transform="translate(644.13 143.8) rotate(-90)">Ba</text><text class="serif" font-size="4.6" font-weight="bold" fill="#222" stroke="#222" stroke-width="0.18" text-anchor="end" transform="translate(650.41 143.8) rotate(-90)">Cd</text><rect x="742.00" y="29.10" width="4.00" height="3.8" fill="#34582c"/><rect x="746.00" y="29.10" width="17.70" height="3.8" fill="#f9dccb"/><text class="serif" x="739.6" y="32.6" font-size="4.8" fill="#222" stroke="#222" stroke-width="0.19" font-weight="bold" text-anchor="end" >BV</text><rect x="742.00" y="37.40" width="23.60" height="3.8" fill="#34582c"/><rect x="765.60" y="37.40" width="3.10" height="3.8" fill="#f9dccb"/><text class="serif" x="739.6" y="40.9" font-size="4.8" fill="#222" stroke="#222" stroke-width="0.19" font-weight="bold" text-anchor="end" >DD</text><rect x="742.00" y="45.60" width="2.00" height="3.8" fill="#34582c"/><rect x="744.00" y="45.60" width="9.40" height="3.8" fill="#45abc9"/><rect x="753.40" y="45.60" width="22.40" height="3.8" fill="#8c2c2c"/><rect x="775.80" y="45.60" width="6.00" height="3.8" fill="#f9dccb"/><text class="serif" x="739.6" y="49.1" font-size="4.8" fill="#222" stroke="#222" stroke-width="0.19" font-weight="bold" text-anchor="end" >MR</text><rect x="742.00" y="53.70" width="4.00" height="3.8" fill="#34582c"/><rect x="746.00" y="53.70" width="22.60" height="3.8" fill="#45abc9"/><rect x="768.60" y="53.70" width="55.40" height="3.8" fill="#1f3d6c"/><rect x="824.00" y="53.70" width="2.60" height="3.8" fill="#d77fb8"/><text class="serif" x="739.6" y="57.2" font-size="4.8" fill="#222" stroke="#222" stroke-width="0.19" font-weight="bold" text-anchor="end" >RD</text><path d="M742,27.799999999999997 V59.8 H837" stroke="#999" stroke-width="0.4" fill="none"/><text class="serif" x="742" y="66" font-size="4.1" fill="#222" stroke="#222" stroke-width="0.16" font-weight="bold" text-anchor="middle" >0.00</text><text class="serif" x="761" y="66" font-size="4.1" fill="#222" stroke="#222" stroke-width="0.16" font-weight="bold" text-anchor="middle" >0.01</text><text class="serif" x="780" y="66" font-size="4.1" fill="#222" stroke="#222" stroke-width="0.16" font-weight="bold" text-anchor="middle" >0.02</text><text class="serif" x="799" y="66" font-size="4.1" fill="#222" stroke="#222" stroke-width="0.16" font-weight="bold" text-anchor="middle" >0.03</text><text class="serif" x="818" y="66" font-size="4.1" fill="#222" stroke="#222" stroke-width="0.16" font-weight="bold" text-anchor="middle" >0.04</text><text class="serif" x="837" y="66" font-size="4.1" fill="#222" stroke="#222" stroke-width="0.16" font-weight="bold" text-anchor="middle" >0.05</text><text class="serif" x="789.5" y="73.5" font-size="4.9" fill="#222" stroke="#222" stroke-width="0.20" font-weight="bold" text-anchor="middle" >Health Quotient</text><rect x="742.50" y="98.80" width="4.00" height="3.8" fill="#34582c"/><rect x="746.50" y="98.80" width="14.00" height="3.8" fill="#45abc9"/><rect x="760.50" y="98.80" width="20.00" height="3.8" fill="#1f3d6c"/><rect x="780.50" y="98.80" width="9.50" height="3.8" fill="#8c2c2c"/><rect x="790.00" y="98.80" width="5.50" height="3.8" fill="#f9dccb"/><text class="serif" x="740.1" y="102.3" font-size="4.8" fill="#222" stroke="#222" stroke-width="0.19" font-weight="bold" text-anchor="end" >Mix</text><rect x="742.50" y="109.90" width="4.00" height="3.8" fill="#34582c"/><rect x="746.50" y="109.90" width="20.00" height="3.8" fill="#45abc9"/><rect x="766.50" y="109.90" width="5.00" height="3.8" fill="#8c2c2c"/><rect x="771.50" y="109.90" width="24.50" height="3.8" fill="#f9dccb"/><text class="serif" x="740.1" y="113.39999999999999" font-size="4.8" fill="#222" stroke="#222" stroke-width="0.19" font-weight="bold" text-anchor="end" >FF</text><rect x="742.50" y="120.80" width="22.00" height="3.8" fill="#34582c"/><rect x="764.50" y="120.80" width="12.00" height="3.8" fill="#1f3d6c"/><rect x="776.50" y="120.80" width="19.00" height="3.8" fill="#8c2c2c"/><rect x="795.50" y="120.80" width="2.00" height="3.8" fill="#f9dccb"/><text class="serif" x="740.1" y="124.3" font-size="4.8" fill="#222" stroke="#222" stroke-width="0.19" font-weight="bold" text-anchor="end" >CS</text><path d="M742.5,96.30000000000001 V128.3 H837.5" stroke="#999" stroke-width="0.4" fill="none"/><text class="serif" x="742.5" y="135.5" font-size="4.1" fill="#222" stroke="#222" stroke-width="0.16" font-weight="bold" text-anchor="middle" >0</text><text class="serif" x="761.4" y="135.5" font-size="4.1" fill="#222" stroke="#222" stroke-width="0.16" font-weight="bold" text-anchor="middle" >0.01</text><text class="serif" x="780.3" y="135.5" font-size="4.1" fill="#222" stroke="#222" stroke-width="0.16" font-weight="bold" text-anchor="middle" >0.02</text><text class="serif" x="799.2" y="135.5" font-size="4.1" fill="#222" stroke="#222" stroke-width="0.16" font-weight="bold" text-anchor="middle" >0.03</text><text class="serif" x="818.1" y="135.5" font-size="4.1" fill="#222" stroke="#222" stroke-width="0.16" font-weight="bold" text-anchor="middle" >0.04</text><text class="serif" x="837.0" y="135.5" font-size="4.1" fill="#222" stroke="#222" stroke-width="0.16" font-weight="bold" text-anchor="middle" >0.05</text><text class="serif" x="813" y="143.5" font-size="4.9" fill="#222" stroke="#222" stroke-width="0.20" font-weight="bold" text-anchor="middle" >Health Quotient</text><rect x="735" y="78.4" width="2.6" height="2.6" fill="#34582c"/><text class="serif" x="738.2" y="81" font-size="4" fill="#222" stroke="#222" stroke-width="0.16" font-weight="bold" text-anchor="start" >Al</text><rect x="746.1" y="78.4" width="2.6" height="2.6" fill="#c9393a"/><text class="serif" x="749.3000000000001" y="81" font-size="4" fill="#222" stroke="#222" stroke-width="0.16" font-weight="bold" text-anchor="start" >Fe</text><rect x="757.2" y="78.4" width="2.6" height="2.6" fill="#f39a48"/><text class="serif" x="760.4000000000001" y="81" font-size="4" fill="#222" stroke="#222" stroke-width="0.16" font-weight="bold" text-anchor="start" >Zn</text><rect x="768.3000000000001" y="78.4" width="2.6" height="2.6" fill="#6a5aa0"/><text class="serif" x="771.5000000000001" y="81" font-size="4" fill="#222" stroke="#222" stroke-width="0.16" font-weight="bold" text-anchor="start" >Sr</text><rect x="779.4000000000001" y="78.4" width="2.6" height="2.6" fill="#45abc9"/><text class="serif" x="782.6000000000001" y="81" font-size="4" fill="#222" stroke="#222" stroke-width="0.16" font-weight="bold" text-anchor="start" >Ni</text><rect x="790.5000000000001" y="78.4" width="2.6" height="2.6" fill="#d02a2a"/><text class="serif" x="793.7000000000002" y="81" font-size="4" fill="#222" stroke="#222" stroke-width="0.16" font-weight="bold" text-anchor="start" >Cu</text><rect x="801.6000000000001" y="78.4" width="2.6" height="2.6" fill="#1f3d6c"/><text class="serif" x="804.8000000000002" y="81" font-size="4" fill="#222" stroke="#222" stroke-width="0.16" font-weight="bold" text-anchor="start" >Mn</text><rect x="812.7000000000002" y="78.4" width="2.6" height="2.6" fill="#8c2c2c"/><text class="serif" x="815.9000000000002" y="81" font-size="4" fill="#222" stroke="#222" stroke-width="0.16" font-weight="bold" text-anchor="start" >Cr</text><rect x="823.8000000000002" y="78.4" width="2.6" height="2.6" fill="#d77fb8"/><text class="serif" x="827.0000000000002" y="81" font-size="4" fill="#222" stroke="#222" stroke-width="0.16" font-weight="bold" text-anchor="start" >Ba</text><rect x="834.9000000000002" y="78.4" width="2.6" height="2.6" fill="#f9dccb"/><text class="serif" x="838.1000000000003" y="81" font-size="4" fill="#222" stroke="#222" stroke-width="0.16" font-weight="bold" text-anchor="start" >Cd</text><rect x="733" y="147.4" width="2.6" height="2.6" fill="#34582c"/><text class="serif" x="736.2" y="150" font-size="4" fill="#222" stroke="#222" stroke-width="0.16" font-weight="bold" text-anchor="start" >Al</text><rect x="744.1" y="147.4" width="2.6" height="2.6" fill="#c9393a"/><text class="serif" x="747.3000000000001" y="150" font-size="4" fill="#222" stroke="#222" stroke-width="0.16" font-weight="bold" text-anchor="start" >Fe</text><rect x="755.2" y="147.4" width="2.6" height="2.6" fill="#f39a48"/><text class="serif" x="758.4000000000001" y="150" font-size="4" fill="#222" stroke="#222" stroke-width="0.16" font-weight="bold" text-anchor="start" >Zn</text><rect x="766.3000000000001" y="147.4" width="2.6" height="2.6" fill="#6a5aa0"/><text class="serif" x="769.5000000000001" y="150" font-size="4" fill="#222" stroke="#222" stroke-width="0.16" font-weight="bold" text-anchor="start" >Sr</text><rect x="777.4000000000001" y="147.4" width="2.6" height="2.6" fill="#45abc9"/><text class="serif" x="780.6000000000001" y="150" font-size="4" fill="#222" stroke="#222" stroke-width="0.16" font-weight="bold" text-anchor="start" >Ni</text><rect x="788.5000000000001" y="147.4" width="2.6" height="2.6" fill="#d02a2a"/><text class="serif" x="791.7000000000002" y="150" font-size="4" fill="#222" stroke="#222" stroke-width="0.16" font-weight="bold" text-anchor="start" >Cu</text><rect x="799.6000000000001" y="147.4" width="2.6" height="2.6" fill="#1f3d6c"/><text class="serif" x="802.8000000000002" y="150" font-size="4" fill="#222" stroke="#222" stroke-width="0.16" font-weight="bold" text-anchor="start" >Mn</text><rect x="810.7000000000002" y="147.4" width="2.6" height="2.6" fill="#8c2c2c"/><text class="serif" x="813.9000000000002" y="150" font-size="4" fill="#222" stroke="#222" stroke-width="0.16" font-weight="bold" text-anchor="start" >Cr</text><rect x="821.8000000000002" y="147.4" width="2.6" height="2.6" fill="#d77fb8"/><text class="serif" x="825.0000000000002" y="150" font-size="4" fill="#222" stroke="#222" stroke-width="0.16" font-weight="bold" text-anchor="start" >Ba</text><rect x="832.9000000000002" y="147.4" width="2.6" height="2.6" fill="#f9dccb"/><text class="serif" x="836.1000000000003" y="150" font-size="4" fill="#222" stroke="#222" stroke-width="0.16" font-weight="bold" text-anchor="start" >Cd</text></svg>
<!-- /FIG2 -->
<!-- FIG3 -->
<svg class="abs" style="left:10px;top:262px" width="242" height="95" viewBox="10 262 242 95"><rect x="10" y="262" width="242" height="95" fill="#fff"/><text x="11.2" y="270.6" font-size="5.9" fill="#cc2222" stroke="#cc2222" stroke-width="0.35" font-weight="bold" text-anchor="start">(a)</text><rect x="29.9" y="267" width="84.1" height="70.9" fill="none" stroke="#b5b5b5" stroke-width="0.6"/><path d="M30 271.5H114" stroke="#e05050" stroke-width="0.6" stroke-dasharray="0.8 1"/><text x="28.8" y="273.2" font-size="4.6" fill="#222" stroke="#222" stroke-width="0.22" text-anchor="end">10<tspan font-size="2.85" dy="-1.9">0</tspan></text><text x="28.8" y="283.75" font-size="4.6" fill="#222" stroke="#222" stroke-width="0.22" text-anchor="end">10<tspan font-size="2.85" dy="-1.9">-1</tspan></text><text x="28.8" y="294.3" font-size="4.6" fill="#222" stroke="#222" stroke-width="0.22" text-anchor="end">10<tspan font-size="2.85" dy="-1.9">-2</tspan></text><text x="28.8" y="304.84999999999997" font-size="4.6" fill="#222" stroke="#222" stroke-width="0.22" text-anchor="end">10<tspan font-size="2.85" dy="-1.9">-3</tspan></text><text x="28.8" y="315.4" font-size="4.6" fill="#222" stroke="#222" stroke-width="0.22" text-anchor="end">10<tspan font-size="2.85" dy="-1.9">-4</tspan></text><text x="28.8" y="325.95" font-size="4.6" fill="#222" stroke="#222" stroke-width="0.22" text-anchor="end">10<tspan font-size="2.85" dy="-1.9">-5</tspan></text><text x="28.8" y="336.5" font-size="4.6" fill="#222" stroke="#222" stroke-width="0.22" text-anchor="end">10<tspan font-size="2.85" dy="-1.9">-6</tspan></text><text font-size="4" fill="#222" stroke="#222" stroke-width="0.2" font-weight="bold" text-anchor="middle" transform="translate(19.5 310) rotate(-90)">Hazard Index (HI)</text><rect x="35.8" y="312.6" width="3.4" height="3.6" fill="#c8201e"/><rect x="38.8" y="312.6" width="3.6" height="3.6" fill="#c8201e"/><rect x="42.3" y="314" width="3.8" height="2.4" fill="#1a7a2a"/><rect x="46" y="314" width="4" height="2.4" fill="#1a7a2a"/><path d="M44 311.5h0.6M48 311h0.6" stroke="#aaa" stroke-width="0.5"/><rect x="54.8" y="328.8" width="4" height="3.8" fill="#c8201e"/><rect x="59" y="322" width="4" height="3.4" fill="#c8201e"/><rect x="63" y="327.2" width="3.8" height="3.2" fill="#1a7a2a"/><rect x="66.8" y="322" width="4" height="3.8" fill="#1a7a2a"/><rect x="75.5" y="281.3" width="4" height="2.3" fill="#c8201e"/><rect x="79.5" y="279.6" width="4.4" height="2.4" fill="#c8201e"/><rect x="84" y="281" width="4" height="2.6" fill="#1a7a2a"/><rect x="88" y="279.3" width="4" height="2.6" fill="#1a7a2a"/><rect x="96" y="281.3" width="4" height="2.3" fill="#c8201e"/><rect x="100" y="279.6" width="4.4" height="2.4" fill="#c8201e"/><rect x="104.5" y="281" width="4" height="2.6" fill="#1a7a2a"/><rect x="108.5" y="279.3" width="4" height="2.6" fill="#1a7a2a"/><path d="M77 277h0.6M82 276h0.6M98 277h0.6M103 276h0.6" stroke="#bbb" stroke-width="0.5"/><text font-size="4.2" fill="#222" stroke="#222" stroke-width="0.2" font-weight="bold" text-anchor="end" transform="translate(42 341) rotate(-28)">Ingestion</text><text font-size="4.2" fill="#222" stroke="#222" stroke-width="0.2" font-weight="bold" text-anchor="end" transform="translate(62 340) rotate(-28)">Dermal</text><text font-size="4.2" fill="#222" stroke="#222" stroke-width="0.2" font-weight="bold" text-anchor="end" transform="translate(85 341) rotate(-28)">Inhalation</text><text font-size="4.2" fill="#222" stroke="#222" stroke-width="0.2" font-weight="bold" text-anchor="end" transform="translate(104 340) rotate(-28)">Total</text><text x="117.8" y="291.8" font-size="4.5" fill="#222" stroke="#222" stroke-width="0.23" font-weight="bold" text-anchor="start">Age Group</text><text x="118" y="296.4" font-size="4" fill="#333" stroke="#333" stroke-width="0.20" text-anchor="start">&#9642; adults</text><text x="118" y="300.6" font-size="4" fill="#333" stroke="#333" stroke-width="0.20" text-anchor="start">&#9474; children</text><text x="117.8" y="307.6" font-size="4.5" fill="#222" stroke="#222" stroke-width="0.23" font-weight="bold" text-anchor="start">Location</text><rect x="118" y="309.4" width="2.6" height="2.6" fill="#c8201e"/><text x="121.6" y="312.2" font-size="4" fill="#333" stroke="#333" stroke-width="0.20" text-anchor="start">Darjeeling</text><rect x="118" y="313.6" width="2.6" height="2.6" fill="#1a7a2a"/><text x="121.6" y="316.4" font-size="4" fill="#333" stroke="#333" stroke-width="0.20" text-anchor="start">Mahabaleshwar</text><text x="145.2" y="270.6" font-size="5.9" fill="#cc2222" stroke="#cc2222" stroke-width="0.35" font-weight="bold" text-anchor="start">(b)</text><rect x="169.7" y="267" width="80.6" height="71.4" fill="none" stroke="#b5b5b5" stroke-width="0.6"/><text x="168.5" y="272.8" font-size="4.5" fill="#222" stroke="#222" stroke-width="0.22" text-anchor="end">10<tspan font-size="2.79" dy="-1.9">0</tspan></text><text x="168.5" y="279.40000000000003" font-size="4.5" fill="#222" stroke="#222" stroke-width="0.22" text-anchor="end">10<tspan font-size="2.79" dy="-1.9">-1</tspan></text><text x="168.5" y="286.0" font-size="4.5" fill="#222" stroke="#222" stroke-width="0.22" text-anchor="end">10<tspan font-size="2.79" dy="-1.9">-2</tspan></text><text x="168.5" y="292.6" font-size="4.5" fill="#222" stroke="#222" stroke-width="0.22" text-anchor="end">10<tspan font-size="2.79" dy="-1.9">-3</tspan></text><text x="168.5" y="299.2" font-size="4.5" fill="#222" stroke="#222" stroke-width="0.22" text-anchor="end">10<tspan font-size="2.79" dy="-1.9">-4</tspan></text><text x="168.5" y="305.8" font-size="4.5" fill="#222" stroke="#222" stroke-width="0.22" text-anchor="end">10<tspan font-size="2.79" dy="-1.9">-5</tspan></text><text x="168.5" y="312.4" font-size="4.5" fill="#222" stroke="#222" stroke-width="0.22" text-anchor="end">10<tspan font-size="2.79" dy="-1.9">-6</tspan></text><text x="168.5" y="319.0" font-size="4.5" fill="#222" stroke="#222" stroke-width="0.22" text-anchor="end">10<tspan font-size="2.79" dy="-1.9">-7</tspan></text><text x="168.5" y="325.6" font-size="4.5" fill="#222" stroke="#222" stroke-width="0.22" text-anchor="end">10<tspan font-size="2.79" dy="-1.9">-8</tspan></text><text x="168.5" y="332.2" font-size="4.5" fill="#222" stroke="#222" stroke-width="0.22" text-anchor="end">10<tspan font-size="2.79" dy="-1.9">-9</tspan></text><text x="168.5" y="338.8" font-size="4.5" fill="#222" stroke="#222" stroke-width="0.22" text-anchor="end">10<tspan font-size="2.79" dy="-1.9">-10</tspan></text><text font-size="3.8" fill="#222" stroke="#222" stroke-width="0.2" font-weight="bold" text-anchor="middle" transform="translate(157.5 303) rotate(-90)">ILCR</text><path d="M170 297.3H250" stroke="#6060e0" stroke-width="0.6" stroke-dasharray="0.8 1"/><path d="M170 310.5H250" stroke="#e05050" stroke-width="0.6" stroke-dasharray="0.8 1"/><text class="serif" x="170.8" y="293.5" font-size="5.4" fill="#111" stroke="#111" stroke-width="0.25">Cancer risk</text><text class="serif" x="170.8" y="313.3" font-size="5.4" fill="#111" stroke="#111" stroke-width="0.25">No cancer risk</text><rect x="175.5" y="329.5" width="4.2" height="3" fill="#c8201e"/><rect x="179.8" y="329" width="4" height="3.2" fill="#c8201e"/><rect x="184" y="331.8" width="4" height="2.4" fill="#1a7a2a"/><rect x="188" y="331.2" width="4" height="2.6" fill="#1a7a2a"/><rect x="201" y="320.4" width="4.4" height="2.2" fill="#cc3030"/><rect x="205.4" y="319.8" width="4.4" height="2.4" fill="#cc3030"/><rect x="210" y="314.2" width="4.6" height="2.6" fill="#1a7a2a"/><rect x="214.6" y="313.2" width="4.6" height="2.8" fill="#1a7a2a"/><rect x="226.4" y="334" width="4.6" height="1.6" fill="#e07878"/><rect x="231" y="333.4" width="4.6" height="1.6" fill="#e07878"/><rect x="235.6" y="332.4" width="4.6" height="1.8" fill="#2a8a50"/><rect x="240.2" y="331.6" width="4.6" height="1.8" fill="#2a8a50"/><path d="M183 326h0.6M187 326.5h0.6M222 332h0.6" stroke="#ccc" stroke-width="0.5"/><text font-size="4.2" fill="#222" stroke="#222" stroke-width="0.2" font-weight="bold" text-anchor="end" transform="translate(187 344) rotate(-28)">Cd</text><text font-size="4.2" fill="#222" stroke="#222" stroke-width="0.2" font-weight="bold" text-anchor="end" transform="translate(211 346) rotate(-28)">Cr(VI)</text><text font-size="4.2" fill="#222" stroke="#222" stroke-width="0.2" font-weight="bold" text-anchor="end" transform="translate(237 343) rotate(-28)">Ni</text></svg>
<!-- /FIG3 -->
<!-- FIG4 -->
<svg class="abs" style="left:489px;top:262px" width="372" height="138" viewBox="489 262 372 138"><rect x="489" y="262" width="372" height="138" fill="#fff"/><text class="serif" x="489.2" y="274.2" font-size="10.4" fill="#d42a2a" stroke="#d42a2a" stroke-width="0.62" font-weight="bold" text-anchor="start">(a)</text><text class="serif" font-size="7.2" font-weight="bold" fill="#222" stroke="#222" stroke-width="0.35" text-anchor="middle" transform="translate(508 311.8) rotate(-90)">Heavy Metal Pollution Index</text><rect x="524.80" y="292.51" width="7.2" height="45.19" fill="#1e8f22"/><rect x="534.32" y="292.90" width="7.2" height="44.80" fill="#1e8f22"/><rect x="543.84" y="300.69" width="7.2" height="37.01" fill="#1e8f22"/><rect x="553.36" y="311.99" width="7.2" height="25.71" fill="#1e8f22"/><rect x="562.88" y="324.06" width="7.2" height="13.64" fill="#1e8f22"/><rect x="572.40" y="330.69" width="7.2" height="7.01" fill="#1e8f22"/><rect x="581.92" y="332.44" width="7.2" height="5.26" fill="#1e8f22"/><rect x="591.44" y="333.41" width="7.2" height="4.29" fill="#1e8f22"/><rect x="600.96" y="334.78" width="7.2" height="2.92" fill="#1e8f22"/><rect x="610.48" y="335.17" width="7.2" height="2.53" fill="#1e8f22"/><rect x="620.00" y="335.36" width="7.2" height="2.34" fill="#1e8f22"/><rect x="629.52" y="335.56" width="7.2" height="2.14" fill="#1e8f22"/><rect x="639.04" y="335.95" width="7.2" height="1.75" fill="#1e8f22"/><path d="M523 286V338.0H648" stroke="#333" stroke-width="0.5" fill="none"/><path d="M521.5 337.70H523" stroke="#333" stroke-width="0.4"/><text class="serif" x="521.2" y="339.8" font-size="6" fill="#222" stroke="#222" stroke-width="0.42" font-weight="bold" text-anchor="end">0</text><path d="M521.5 327.96H523" stroke="#333" stroke-width="0.4"/><text class="serif" x="521.2" y="330.06" font-size="6" fill="#222" stroke="#222" stroke-width="0.42" font-weight="bold" text-anchor="end">50</text><path d="M521.5 318.22H523" stroke="#333" stroke-width="0.4"/><text class="serif" x="521.2" y="320.32" font-size="6" fill="#222" stroke="#222" stroke-width="0.42" font-weight="bold" text-anchor="end">100</text><path d="M521.5 308.48H523" stroke="#333" stroke-width="0.4"/><text class="serif" x="521.2" y="310.58000000000004" font-size="6" fill="#222" stroke="#222" stroke-width="0.42" font-weight="bold" text-anchor="end">150</text><path d="M521.5 298.74H523" stroke="#333" stroke-width="0.4"/><text class="serif" x="521.2" y="300.84000000000003" font-size="6" fill="#222" stroke="#222" stroke-width="0.42" font-weight="bold" text-anchor="end">200</text><path d="M521.5 289.00H523" stroke="#333" stroke-width="0.4"/><text class="serif" x="521.2" y="291.1" font-size="6" fill="#222" stroke="#222" stroke-width="0.42" font-weight="bold" text-anchor="end">250</text><path d="M523 332.3H648" stroke="#e04848" stroke-width="0.7" stroke-dasharray="3 1 0.8 1"/><text class="serif" x="597.8" y="329.5" font-size="7.6" fill="#e05060" stroke="#e05060" stroke-width="0.23" text-anchor="start">Threshold limit</text><text class="serif" x="0" y="0" font-size="7.0" fill="#222" stroke="#222" stroke-width="0.35" font-weight="bold" text-anchor="end" transform="translate(530.30 342) rotate(-46)">Tri-City</text><text class="serif" x="0" y="0" font-size="7.0" fill="#222" stroke="#222" stroke-width="0.35" font-weight="bold" text-anchor="end" transform="translate(539.82 342) rotate(-46)">Vallambrosa</text><text class="serif" x="0" y="0" font-size="7.0" fill="#222" stroke="#222" stroke-width="0.35" font-weight="bold" text-anchor="end" transform="translate(549.34 342) rotate(-46)">Mt. Lu</text><text class="serif" x="0" y="0" font-size="7.0" fill="#222" stroke="#222" stroke-width="0.35" font-weight="bold" text-anchor="end" transform="translate(558.86 342) rotate(-46)">Mt. Tai</text><text class="serif" x="0" y="0" font-size="7.0" fill="#222" stroke="#222" stroke-width="0.35" font-weight="bold" text-anchor="end" transform="translate(568.38 342) rotate(-46)">Plynlimon</text><text class="serif" x="0" y="0" font-size="7.0" fill="#222" stroke="#222" stroke-width="0.35" font-weight="bold" text-anchor="end" transform="translate(577.90 342) rotate(-46)">Mt. Brocken</text><text class="serif" x="0" y="0" font-size="7.0" fill="#222" stroke="#222" stroke-width="0.35" font-weight="bold" text-anchor="end" transform="translate(587.42 342) rotate(-46)">Mt. Mansfield</text><text class="serif" x="0" y="0" font-size="7.0" fill="#222" stroke="#222" stroke-width="0.35" font-weight="bold" text-anchor="end" transform="translate(596.94 342) rotate(-46)">Darjeeling</text><text class="serif" x="0" y="0" font-size="7.0" fill="#222" stroke="#222" stroke-width="0.35" font-weight="bold" text-anchor="end" transform="translate(606.46 342) rotate(-46)">Mahabaleshwar</text><text class="serif" x="0" y="0" font-size="7.0" fill="#222" stroke="#222" stroke-width="0.35" font-weight="bold" text-anchor="end" transform="translate(615.98 342) rotate(-46)">Mt. Eiden</text><text class="serif" x="0" y="0" font-size="7.0" fill="#222" stroke="#222" stroke-width="0.35" font-weight="bold" text-anchor="end" transform="translate(625.50 342) rotate(-46)">Changlagbaff</text><text class="serif" x="0" y="0" font-size="7.0" fill="#222" stroke="#222" stroke-width="0.35" font-weight="bold" text-anchor="end" transform="translate(635.02 342) rotate(-46)">Mt. Schmücke</text><text class="serif" x="0" y="0" font-size="7.0" fill="#222" stroke="#222" stroke-width="0.35" font-weight="bold" text-anchor="end" transform="translate(644.54 342) rotate(-46)">puy de Dome</text><text class="serif" x="644.8" y="274.2" font-size="10.4" fill="#d42a2a" stroke="#d42a2a" stroke-width="0.62" font-weight="bold" text-anchor="start">(b)</text><text class="serif" font-size="7.8" font-weight="bold" fill="#222" stroke="#222" stroke-width="0.35" text-anchor="middle" transform="translate(660.3 300.8) rotate(-90)">Health Index</text><text class="serif" font-size="7.8" font-weight="bold" fill="#222" stroke="#222" stroke-width="0.35" text-anchor="middle" transform="translate(839.8 298.5) rotate(-90)">Health Index</text><rect x="687.30" y="273.23" width="4.5" height="65.17" fill="#1f9a24"/><rect x="691.80" y="275.33" width="4.2" height="63.07" fill="#b55f1f"/><rect x="696.69" y="293.86" width="4.5" height="44.54" fill="#1f9a24"/><rect x="701.19" y="291.88" width="4.2" height="46.52" fill="#b55f1f"/><rect x="706.08" y="297.01" width="4.5" height="41.39" fill="#1f9a24"/><rect x="710.58" y="298.06" width="4.2" height="40.34" fill="#b55f1f"/><rect x="715.47" y="303.71" width="4.5" height="34.69" fill="#1f9a24"/><rect x="719.97" y="304.63" width="4.2" height="33.77" fill="#b55f1f"/><rect x="724.86" y="323.68" width="4.5" height="14.72" fill="#1f9a24"/><rect x="729.36" y="323.95" width="4.2" height="14.45" fill="#b55f1f"/><rect x="734.25" y="326.57" width="4.5" height="11.83" fill="#1f9a24"/><rect x="738.75" y="326.57" width="4.2" height="11.83" fill="#b55f1f"/><rect x="743.64" y="328.28" width="4.5" height="10.12" fill="#1f9a24"/><rect x="748.14" y="328.28" width="4.2" height="10.12" fill="#b55f1f"/><rect x="753.03" y="330.78" width="4.5" height="7.62" fill="#1f9a24"/><rect x="757.53" y="329.99" width="4.2" height="8.41" fill="#b55f1f"/><rect x="762.42" y="331.44" width="4.5" height="6.96" fill="#1f9a24"/><rect x="766.92" y="331.44" width="4.2" height="6.96" fill="#b55f1f"/><rect x="771.81" y="333.93" width="4.5" height="4.47" fill="#1f9a24"/><rect x="776.31" y="333.93" width="4.2" height="4.47" fill="#b55f1f"/><rect x="781.20" y="333.93" width="4.5" height="4.47" fill="#1f9a24"/><rect x="785.70" y="333.93" width="4.2" height="4.47" fill="#b55f1f"/><rect x="790.59" y="334.20" width="4.5" height="4.20" fill="#1f9a24"/><rect x="795.09" y="334.20" width="4.2" height="4.20" fill="#b55f1f"/><rect x="799.98" y="334.85" width="4.5" height="3.55" fill="#1f9a24"/><rect x="804.48" y="335.11" width="4.2" height="3.29" fill="#b55f1f"/><path d="M686.5 265.6V338.4H808.5V265.6" stroke="#555" stroke-width="0.5" fill="none"/><path d="M686.5 265.6H808.5" stroke="#777" stroke-width="0.6" stroke-dasharray="0.6 3.4"/><text class="serif" x="685" y="340.59999999999997" font-size="6.9" fill="#2a8a2a" stroke="#2a8a2a" stroke-width="0.35" font-weight="bold" text-anchor="end">0</text><text class="serif" x="810.2" y="340.59999999999997" font-size="6.8" fill="#9a5a2a" stroke="#9a5a2a" stroke-width="0.34" font-weight="bold" text-anchor="start">0</text><path d="M686.5 338.40h1.5M808.5 338.40h-1.5" stroke="#555" stroke-width="0.4"/><text class="serif" x="685" y="327.46" font-size="6.9" fill="#2a8a2a" stroke="#2a8a2a" stroke-width="0.35" font-weight="bold" text-anchor="end">1×10<tspan font-size="4.2" dy="-2.8">−2</tspan></text><text class="serif" x="810.2" y="327.46" font-size="6.8" fill="#9a5a2a" stroke="#9a5a2a" stroke-width="0.34" font-weight="bold" text-anchor="start">1×10<tspan font-size="4.2" dy="-2.8">−4</tspan></text><path d="M686.5 325.26h1.5M808.5 325.26h-1.5" stroke="#555" stroke-width="0.4"/><text class="serif" x="685" y="314.32" font-size="6.9" fill="#2a8a2a" stroke="#2a8a2a" stroke-width="0.35" font-weight="bold" text-anchor="end">2×10<tspan font-size="4.2" dy="-2.8">−2</tspan></text><text class="serif" x="810.2" y="314.32" font-size="6.8" fill="#9a5a2a" stroke="#9a5a2a" stroke-width="0.34" font-weight="bold" text-anchor="start">2×10<tspan font-size="4.2" dy="-2.8">−4</tspan></text><path d="M686.5 312.12h1.5M808.5 312.12h-1.5" stroke="#555" stroke-width="0.4"/><text class="serif" x="685" y="301.17999999999995" font-size="6.9" fill="#2a8a2a" stroke="#2a8a2a" stroke-width="0.35" font-weight="bold" text-anchor="end">3×10<tspan font-size="4.2" dy="-2.8">−2</tspan></text><text class="serif" x="810.2" y="301.17999999999995" font-size="6.8" fill="#9a5a2a" stroke="#9a5a2a" stroke-width="0.34" font-weight="bold" text-anchor="start">3×10<tspan font-size="4.2" dy="-2.8">−4</tspan></text><path d="M686.5 298.98h1.5M808.5 298.98h-1.5" stroke="#555" stroke-width="0.4"/><text class="serif" x="685" y="288.03999999999996" font-size="6.9" fill="#2a8a2a" stroke="#2a8a2a" stroke-width="0.35" font-weight="bold" text-anchor="end">4×10<tspan font-size="4.2" dy="-2.8">−2</tspan></text><text class="serif" x="810.2" y="288.03999999999996" font-size="6.8" fill="#9a5a2a" stroke="#9a5a2a" stroke-width="0.34" font-weight="bold" text-anchor="start">4×10<tspan font-size="4.2" dy="-2.8">−4</tspan></text><path d="M686.5 285.84h1.5M808.5 285.84h-1.5" stroke="#555" stroke-width="0.4"/><text class="serif" x="685" y="274.9" font-size="6.9" fill="#2a8a2a" stroke="#2a8a2a" stroke-width="0.35" font-weight="bold" text-anchor="end">5×10<tspan font-size="4.2" dy="-2.8">−2</tspan></text><text class="serif" x="810.2" y="274.9" font-size="6.8" fill="#9a5a2a" stroke="#9a5a2a" stroke-width="0.34" font-weight="bold" text-anchor="start">5×10<tspan font-size="4.2" dy="-2.8">−4</tspan></text><path d="M686.5 272.70h1.5M808.5 272.70h-1.5" stroke="#555" stroke-width="0.4"/><rect x="761.9" y="267.6" width="43.7" height="18.7" fill="#fff" stroke="#ddd" stroke-width="0.4"/><rect x="763.2" y="269.3" width="15.1" height="7.1" fill="#1f9a24"/><rect x="763.2" y="278.3" width="15.1" height="7.1" fill="#b55f1f"/><text class="serif" x="780.2" y="275.6" font-size="6.6" fill="#222" stroke="#222" stroke-width="0.26" text-anchor="start">Children</text><text class="serif" x="780.2" y="284.5" font-size="6.6" fill="#222" stroke="#222" stroke-width="0.26" text-anchor="start">Adults</text><text class="serif" x="0" y="0" font-size="7.1" fill="#222" stroke="#222" stroke-width="0.35" font-weight="bold" text-anchor="end" transform="translate(696.30 342.5) rotate(-43)">Tri-City</text><text class="serif" x="0" y="0" font-size="7.1" fill="#222" stroke="#222" stroke-width="0.35" font-weight="bold" text-anchor="end" transform="translate(705.69 342.5) rotate(-43)">Vallambrosa</text><text class="serif" x="0" y="0" font-size="7.1" fill="#222" stroke="#222" stroke-width="0.35" font-weight="bold" text-anchor="end" transform="translate(715.08 342.5) rotate(-43)">Mt. Lu</text><text class="serif" x="0" y="0" font-size="7.1" fill="#222" stroke="#222" stroke-width="0.35" font-weight="bold" text-anchor="end" transform="translate(724.47 342.5) rotate(-43)">Mt. Tai</text><text class="serif" x="0" y="0" font-size="7.1" fill="#222" stroke="#222" stroke-width="0.35" font-weight="bold" text-anchor="end" transform="translate(733.86 342.5) rotate(-43)">Plynlimon</text><text class="serif" x="0" y="0" font-size="7.1" fill="#222" stroke="#222" stroke-width="0.35" font-weight="bold" text-anchor="end" transform="translate(743.25 342.5) rotate(-43)">Mt. Brocken</text><text class="serif" x="0" y="0" font-size="7.1" fill="#222" stroke="#222" stroke-width="0.35" font-weight="bold" text-anchor="end" transform="translate(752.64 342.5) rotate(-43)">Mt. Mansfield</text><text class="serif" x="0" y="0" font-size="7.1" fill="#222" stroke="#222" stroke-width="0.35" font-weight="bold" text-anchor="end" transform="translate(762.03 342.5) rotate(-43)">Darjeeling</text><text class="serif" x="0" y="0" font-size="7.1" fill="#222" stroke="#222" stroke-width="0.35" font-weight="bold" text-anchor="end" transform="translate(771.42 342.5) rotate(-43)">Mahabaleshwar</text><text class="serif" x="0" y="0" font-size="7.1" fill="#222" stroke="#222" stroke-width="0.35" font-weight="bold" text-anchor="end" transform="translate(780.81 342.5) rotate(-43)">Mt. Eiden</text><text class="serif" x="0" y="0" font-size="7.1" fill="#222" stroke="#222" stroke-width="0.35" font-weight="bold" text-anchor="end" transform="translate(790.20 342.5) rotate(-43)">Changlagbaff</text><text class="serif" x="0" y="0" font-size="7.1" fill="#222" stroke="#222" stroke-width="0.35" font-weight="bold" text-anchor="end" transform="translate(799.59 342.5) rotate(-43)">Mt. Schmücke</text><text class="serif" x="0" y="0" font-size="7.1" fill="#222" stroke="#222" stroke-width="0.35" font-weight="bold" text-anchor="end" transform="translate(808.98 342.5) rotate(-43)">puy de Dome</text></svg>
<!-- /FIG4 -->
<!-- captions -->
<div class="cap" style="left:11px;top:192px;width:458px;">
<div style="letter-spacing:0.12px">Possible trajectories of cloud movements in India</div>
</div>

<div class="cap" style="left:489px;top:156px;width:679px;">
<div class="j" style="padding-left:4px">(a-b) source apportionment (%) and individual cloud-borne metal specific source contribution (%); and</div>
<div class="j">(c-d) source-specific health risk parameters like total HI and total HQ with individual cloud-borne toxic</div>
<div>metal contribution over Mahabaleshwar and Darjeeling</div>
</div>

<div class="cap" style="left:11px;top:360px;width:458px;">
<div class="j" style="padding-left:5px">(a) Non-carcinogenic health risk (HI) through different exposure</div>
<div class="j" style="letter-spacing:0.18px">routes for children and adults, and (b) carcinogenic health risk (ILCR)</div>
<div class="j">through inhalation of carcinogenic metals over Mahabaleshwar and</div>
<div>Darjeeling in India.</div>
</div>

<div class="cap" style="left:489px;top:425px;width:679px;">
<div class="j" style="padding-left:4px;padding-right:0.5px;letter-spacing:0.12px">(a) Heavy metal pollution index (HPI), and (b) non-carcinogenic risk from the cloud water over different</div>
<div style="letter-spacing:0.35px">locations in the world.</div>
</div>

</body></html>
